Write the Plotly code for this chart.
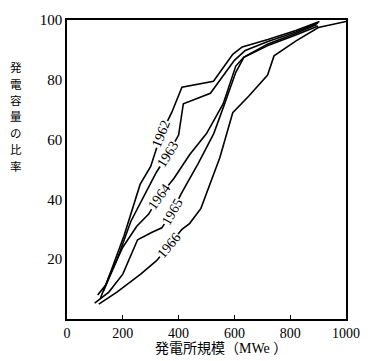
import numpy as np
import plotly.graph_objects as go

# ---- data ----
years = ["1962", "1963", "1964", "1965", "1966"]

x_1962 = [110, 140, 205, 262, 300, 338, 375, 412, 525, 594, 628, 720, 820, 905]
y_1962 = [8, 11.5, 28, 45, 51, 62, 69, 77.5, 79.5, 88.5, 91, 93.5, 96.5, 99.5]

x_1963 = [131, 180, 229, 280, 320, 361, 400, 417, 514, 600, 639, 720, 820, 900]
y_1963 = [9.4, 20, 32.7, 42, 49, 55, 61.5, 72, 75.5, 86.5, 89.8, 92.8, 96, 99]

x_1964 = [120, 150, 200, 250, 292, 331, 383, 440, 500, 560, 605, 634, 720, 820, 895]
y_1964 = [7, 14, 24, 31, 35, 41, 47, 55, 62, 72, 84.6, 87.6, 92, 95.5, 98.5]

x_1965 = [99, 150, 200, 253, 305, 340, 378, 410, 470, 526, 565, 605, 634, 720, 820, 900]
y_1965 = [5.3, 9, 15, 26.5, 29, 30.5, 36, 42, 52, 62, 72, 82.5, 87.5, 91.5, 95, 98]

x_1966 = [114, 179, 264, 321, 365, 412, 440, 480, 548, 594, 651, 719, 742, 821, 901, 1000]
y_1966 = [5, 9, 15, 19.5, 24.5, 30, 32, 37, 54, 69, 74.5, 81.6, 88, 93, 97.5, 99.5]

x_ticks = [0, 200, 400, 600, 800, 1000]
y_ticks = [20, 40, 60, 80, 100]

x_title = "発電所規模（MWe ）"
y_title = "発電容量の比率"

series = [(years[0], x_1962, y_1962), (years[1], x_1963, y_1963),
          (years[2], x_1964, y_1964), (years[3], x_1965, y_1965),
          (years[4], x_1966, y_1966)]

# where along each curve (x value) its year label sits
label_at = {"1962": 338, "1963": 361, "1964": 331, "1965": 378, "1966": 366}

# ---- layout geometry ----
W, H = 372, 361
ml, mr, mt, mb = 67, 13, 15, 42
pw, ph = W - ml - mr, H - mt - mb

fig = go.Figure()
for name, xs, ys in series:
    fig.add_trace(go.Scatter(x=xs, y=ys, mode="lines", name=name,
                             line=dict(color="black", width=1.6),
                             showlegend=False, hoverinfo="skip"))

serif = "Liberation Serif, Times New Roman, Noto Sans CJK JP, serif"
for name, xs, ys in series:
    lx = label_at[name]
    ly = float(np.interp(lx, xs, ys))
    dx = 30
    y1 = float(np.interp(lx - dx, xs, ys))
    y2 = float(np.interp(lx + dx, xs, ys))
    ang = np.degrees(np.arctan2((y2 - y1) * ph / 100.0, 2 * dx * pw / 1000.0))
    fig.add_annotation(x=lx, y=ly, text=name, showarrow=False,
                       textangle=-ang, bgcolor="white", borderpad=0,
                       font=dict(family=serif, size=14, color="black"))

# vertical (stacked) y-axis title, one character per annotation
step = 16.7
top_c = 63
for i, ch in enumerate(y_title):
    ypx = top_c + i * step
    fig.add_annotation(xref="paper", yref="paper", x=(14 - ml) / pw,
                       y=(H - mb - ypx) / ph, text=ch, showarrow=False,
                       xanchor="center", yanchor="middle",
                       font=dict(family="Noto Sans CJK JP", size=11.5, color="black"))

fig.add_annotation(xref="paper", yref="paper", x=(228 - ml) / pw,
                   y=-(349 - (H - mb)) / ph, text=x_title, showarrow=False,
                   xanchor="center", yanchor="middle",
                   font=dict(family=serif, size=14, color="black"))

fig.update_xaxes(range=[0, 1000], tickvals=x_ticks, ticktext=[str(v) for v in x_ticks],
                 showgrid=False, zeroline=False, showline=True, linecolor="black",
                 linewidth=1.5, mirror=True, ticks="inside", ticklen=4,
                 tickcolor="black", tickfont=dict(family=serif, size=14, color="black"))
fig.update_yaxes(range=[0, 100], tickvals=y_ticks, showgrid=False, zeroline=False,
                 showline=True, linecolor="black", linewidth=1.5, mirror=True,
                 ticks="", tickfont=dict(family=serif, size=15, color="black"))

fig.update_layout(width=W, height=H, margin=dict(l=ml, r=mr, t=mt, b=mb),
                  paper_bgcolor="white", plot_bgcolor="white")

fig.write_html("out.html", config={"displayModeBar": False},
               post_script="document.body.style.margin='0';")
